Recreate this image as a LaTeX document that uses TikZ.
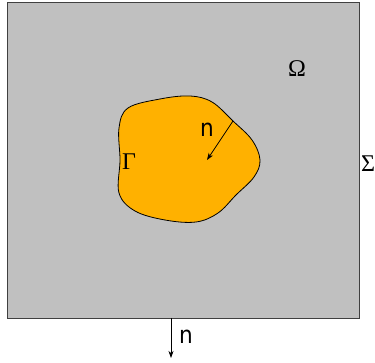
\documentclass[tikz,border=0pt]{standalone}
\usepackage{fontspec}
\newfontfamily\labelfont{DejaVu Sans Condensed}
\newfontfamily\greekfont{Liberation Serif}
\usetikzlibrary{positioning,arrows.meta}
\definecolor{domGray}{HTML}{C0C0C0}
\definecolor{obsOrange}{HTML}{FFB100}

\begin{document}
\begin{tikzpicture}[
  x=1pt, y=-1pt,
  every node/.style={inner sep=0pt},
  greek/.style={font=\greekfont\fontsize{24}{26}\selectfont},
  normal/.style={font=\labelfont\fontsize{24}{26}\selectfont},
  arrow/.style={-{Stealth[length=7pt,width=5pt,inset=2pt]}, line width=0.7pt}
]
 \useasboundingbox (0,0) rectangle (375,363);

 % Outer domain
 \draw[fill=domGray, draw=black!75, line width=0.8pt] (7,2) rectangle (359,318);

 % Obstacle
 \draw[fill=obsOrange, line width=0.8pt] plot[smooth cycle, tension=0.6] coordinates {
  (128,108) (160,99) (190,96) (212,102) (233,121) (252,140) (260,160)
  (254,177) (236,195) (218,213) (196,222) (165,220) (135,211)
  (119,193) (120,160) (119,128)};

 % Normals
 \coordinate (nInA) at (233,121);
 \coordinate (nInB) at (207,160);
 \draw[arrow] (nInA) -- (nInB);
 \coordinate (nOutA) at (171,318);
 \coordinate (nOutB) at (171,358);
 \draw[arrow] (nOutA) -- (nOutB);

 % Labels
 \node[normal] (nIn) at (207,130) {n};
 \node[normal] (nOut) at (186,337) {n};
 \node[greek] (gam) at (129,162) {Γ};
 \node[greek] (omg) at (297,69) {Ω};
 \node[greek] (sig) at (368,164) {Σ};
\end{tikzpicture}
\end{document}
